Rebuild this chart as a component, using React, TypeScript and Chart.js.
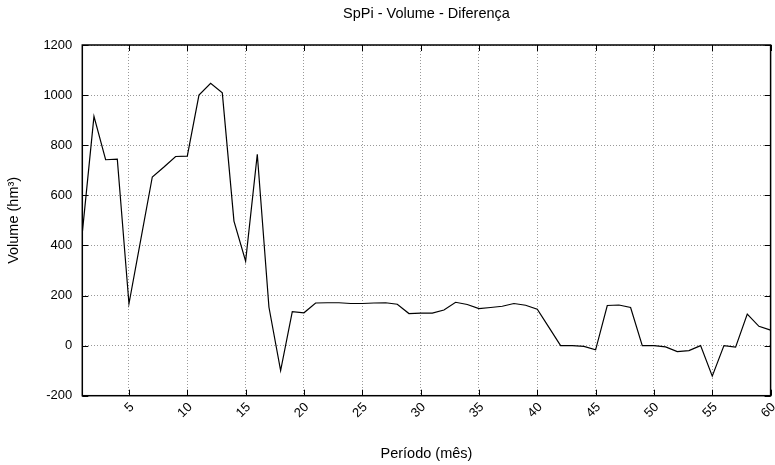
import React, { useEffect, useRef } from "react";
import { Chart, registerables } from "chart.js";

Chart.register(...registerables);

const periods = [
  1, 2, 3, 4, 5, 6, 7, 8, 9, 10, 11, 12, 13, 14, 15, 16, 17, 18, 19, 20,
  21, 22, 23, 24, 25, 26, 27, 28, 29, 30, 31, 32, 33, 34, 35, 36, 37, 38, 39, 40,
  41, 42, 43, 44, 45, 46, 47, 48, 49, 50, 51, 52, 53, 54, 55, 56, 57, 58, 59, 60,
];

const volumeDiff = [
  450, 915, 742, 744, 167, 420, 673, 713, 755, 756,
  1000, 1047, 1009, 497, 337, 764, 153, -100, 136, 131,
  170, 171, 171, 168, 168, 170, 171, 165, 128, 130,
  130, 142, 173, 164, 148, 152, 157, 168, 161, 145,
  73, 0, 0, -3, -17, 160, 162, 152, 0, 0,
  -5, -24, -20, 0, -122, 0, -6, 126, 77, 62,
];

const xTicks = [5, 10, 15, 20, 25, 30, 35, 40, 45, 50, 55, 60];
const yTicks = [-200, 0, 200, 400, 600, 800, 1000, 1200];

const chartTitle = "SpPi - Volume - Diferença";
const xTitle = "Período (mês)";
const yTitle = "Volume (hm³)";

const FONT = "'Liberation Sans', Arial, Helvetica, sans-serif";

const framePlugin = {
  id: "gnuplotFrame",
  beforeDatasetsDraw(chart: any) {
    const { ctx, chartArea } = chart;
    const { left, right, top, bottom } = chartArea;
    const xs = chart.scales.x;
    const ys = chart.scales.y;
    const tl = 6;
    ctx.save();
    ctx.strokeStyle = "#000";
    ctx.lineWidth = 1;
    ctx.beginPath();
    xTicks.forEach((v) => {
      const px = Math.round(xs.getPixelForValue(v)) + 0.5;
      ctx.moveTo(px, bottom);
      ctx.lineTo(px, bottom - tl);
      ctx.moveTo(px, top);
      ctx.lineTo(px, top + tl);
    });
    yTicks.forEach((v) => {
      const py = Math.round(ys.getPixelForValue(v)) + 0.5;
      ctx.moveTo(left, py);
      ctx.lineTo(left + tl, py);
      ctx.moveTo(right, py);
      ctx.lineTo(right - tl, py);
    });
    ctx.stroke();
    ctx.lineWidth = 1.5;
    ctx.strokeRect(left, top, right - left, bottom - top);
    ctx.restore();
  },
  afterDraw(chart: any) {
    const { ctx, chartArea } = chart;
    ctx.save();
    ctx.fillStyle = "#000";
    ctx.font = `14.5px ${FONT}`;
    ctx.textAlign = "center";
    ctx.textBaseline = "middle";
    ctx.fillText(chartTitle, (chartArea.left + chartArea.right) / 2, 14);
    ctx.restore();
  },
};

export default function App() {
  const canvasRef = useRef<HTMLCanvasElement | null>(null);

  useEffect(() => {
    if (!canvasRef.current) return;
    const chart = new Chart(canvasRef.current, {
      type: "line",
      data: {
        datasets: [
          {
            data: periods.map((p, i) => ({ x: p, y: volumeDiff[i] })),
            borderColor: "#000",
            borderWidth: 1.2,
            pointRadius: 0,
            tension: 0,
            fill: false,
          },
        ],
      },
      options: {
        responsive: false,
        animation: false,
        layout: { padding: { top: 45, right: 4.4, left: 0, bottom: 0 } },
        plugins: {
          legend: { display: false },
          tooltip: { enabled: false },
          title: { display: false },
        },
        scales: {
          x: {
            type: "linear",
            min: 1,
            max: 60,
            afterBuildTicks: (scale: any) => {
              scale.ticks = xTicks.map((v) => ({ value: v }));
            },
            afterFit: (scale: any) => {
              scale.height = 69.3;
              scale.paddingLeft = 0;
              scale.paddingRight = 0;
            },
            ticks: {
              autoSkip: false,
              minRotation: 45,
              maxRotation: 45,
              padding: 4,
              labelOffset: 3,
              color: "#000",
              font: { family: FONT, size: 13 },
              callback: (v: any) => String(v),
            },
            grid: {
              color: "#999",
              lineWidth: 1,
              drawTicks: false,
            },
            border: { display: false, dash: [1, 2] },
            title: {
              display: true,
              text: xTitle,
              color: "#000",
              font: { family: FONT, size: 14.5 },
              padding: { top: 0, bottom: 2.3 },
            },
          },
          y: {
            type: "linear",
            min: -200,
            max: 1200,
            afterBuildTicks: (scale: any) => {
              scale.ticks = yTicks.map((v) => ({ value: v }));
            },
            afterFit: (scale: any) => {
              scale.width = 82.3;
              scale.paddingTop = 0;
              scale.paddingBottom = 0;
            },
            ticks: {
              padding: 10,
              color: "#000",
              font: { family: FONT, size: 13 },
              callback: (v: any) => String(v),
            },
            grid: {
              color: "#999",
              lineWidth: 1,
              drawTicks: false,
            },
            border: { display: false, dash: [1, 2] },
            title: {
              display: true,
              text: yTitle,
              color: "#000",
              font: { family: FONT, size: 14.5 },
              padding: { top: 5.3, bottom: 0 },
            },
          },
        },
      },
      plugins: [framePlugin],
    });
    return () => chart.destroy();
  }, []);

  return (
    <div style={{ position: "absolute", left: 0, top: 0, width: 775, height: 465, background: "#fff" }}>
      <canvas ref={canvasRef} width={775} height={465} />
    </div>
  );
}
